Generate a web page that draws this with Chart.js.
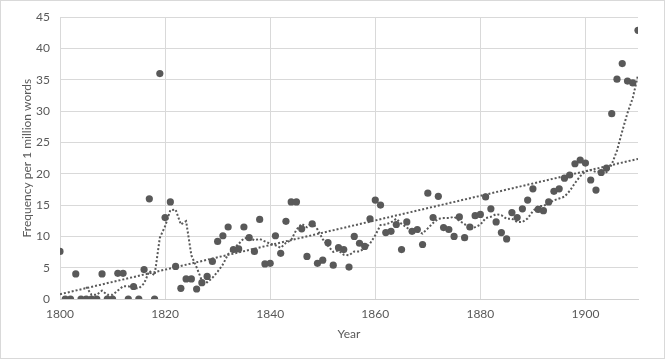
<!DOCTYPE html>
<html><head><meta charset="utf-8">
<script src="https://cdn.jsdelivr.net/npm/chart.js@4"></script>
<style>html,body{margin:0;padding:0;background:#fff}#wrap{width:665px;height:359px;position:relative}</style>
</head><body><div id="wrap"><canvas id="c" width="665" height="359"></canvas></div>
<script>
const years = [1800,1801,1802,1803,1804,1805,1806,1807,1808,1809,1810,1811,1812,1813,1814,1815,1816,1817,1818,1819,
1820,1821,1822,1823,1824,1825,1826,1827,1828,1829,1830,1831,1832,1833,1834,1835,1836,1837,1838,1839,
1840,1841,1842,1843,1844,1845,1846,1847,1848,1849,1850,1851,1852,1853,1854,1855,1856,1857,1858,1859,
1860,1861,1862,1863,1864,1865,1866,1867,1868,1869,1870,1871,1872,1873,1874,1875,1876,1877,1878,1879,
1880,1881,1882,1883,1884,1885,1886,1887,1888,1889,1890,1891,1892,1893,1894,1895,1896,1897,1898,1899,
1900,1901,1902,1903,1904,1905,1906,1907,1908,1909,1910];
const frequency = [7.6,0,0,4.0,0,0,0,0,4.0,0,0,4.1,4.1,0,2.0,0,4.7,16.0,0,36.0,
13.0,15.5,5.2,1.7,3.2,3.2,1.6,2.6,3.6,6.0,9.2,10.1,11.5,7.9,8.0,11.5,9.8,7.6,12.7,5.6,
5.7,10.1,7.3,12.4,15.5,15.5,11.2,6.8,12.0,5.7,6.2,9.0,5.4,8.2,7.9,5.1,10.0,8.9,8.4,12.8,
15.8,15.0,10.6,10.8,11.9,7.9,12.3,10.8,11.1,8.7,16.9,13.0,16.4,11.4,11.1,10.0,13.1,9.8,11.5,13.3,
13.5,16.3,14.4,12.3,10.6,9.6,13.8,13.0,14.4,15.8,17.6,14.3,14.1,15.5,17.2,17.6,19.3,19.8,21.6,22.2,
21.7,19.0,17.4,20.2,20.9,29.6,35.1,37.6,34.8,34.5,42.9];
const xTicks = [1800,1820,1840,1860,1880,1900];
const yTicks = [0,5,10,15,20,25,30,35,40,45];
const movingAveragePeriod = 6;

// scatter points
const points = years.map((y,i)=>({x:y, y:frequency[i]}));
// linear trendline (least squares of the data)
const n = years.length;
const mx = years.reduce((a,b)=>a+b,0)/n, my = frequency.reduce((a,b)=>a+b,0)/n;
let sxy=0, sxx=0;
for (let i=0;i<n;i++){ sxy+=(years[i]-mx)*(frequency[i]-my); sxx+=(years[i]-mx)*(years[i]-mx); }
const slope = sxy/sxx, intercept = my - slope*mx;
const linear = [years[0], years[n-1]].map(x=>({x, y:intercept+slope*x}));
// moving average trendline
const movAvg = [];
for (let i=movingAveragePeriod-1;i<n;i++){
  let s=0; for (let k=i-movingAveragePeriod+1;k<=i;k++) s+=frequency[k];
  movAvg.push({x:years[i], y:s/movingAveragePeriod});
}

const gray = '#595959';
const font = {family:'Lato, "Open Sans", sans-serif', size:12};
const frame = {
  id:'frame',
  beforeDraw(c){ const g=c.ctx; g.save(); g.fillStyle='#fff'; g.fillRect(0,0,c.width,c.height); g.restore(); },
  afterDraw(c){ const g=c.ctx; g.save(); g.strokeStyle='#d9d9d9'; g.lineWidth=1; g.strokeRect(0.5,0.5,c.width-1,c.height-1); g.restore(); }
};
new Chart(document.getElementById('c'), {
  type:'scatter',
  data:{datasets:[
    {label:'Frequency', data:points, order:2, pointRadius:3.6, pointHoverRadius:3.6, backgroundColor:gray, borderColor:gray, pointBorderWidth:0, showLine:false},
    {label:'Linear', data:linear, order:1, type:'line', showLine:true, pointRadius:0, borderColor:gray, borderWidth:2, borderDash:[2,2], fill:false},
    {label:'Moving average', data:movAvg, order:1, type:'line', showLine:true, pointRadius:0, borderColor:gray, borderWidth:2, borderDash:[2,2], fill:false, tension:0}
  ]},
  options:{
    responsive:false, animation:false, devicePixelRatio:1,
    layout:{padding:{top:15,right:27,left:0,bottom:0}},
    plugins:{legend:{display:false}, tooltip:{enabled:false}},
    scales:{
      x:{type:'linear', min:1800, max:1910,
        afterBuildTicks(s){ s.ticks = xTicks.map(v=>({value:v})); },
        afterFit(s){ s.height = 60; },
        ticks:{color:gray, font, padding:8, maxRotation:0, callback:v=>String(v)},
        grid:{color:'#d9d9d9', drawTicks:false},
        border:{color:'#d0d0d0'},
        title:{display:true, text:'Year', color:gray, font:{...font, size:12}, padding:{top:0,bottom:18}}
      },
      y:{min:0, max:45,
        afterBuildTicks(s){ s.ticks = yTicks.map(v=>({value:v})); },
        afterFit(s){ s.width = 60; },
        ticks:{color:gray, font, padding:10, callback:v=>String(v)},
        grid:{color:'#d9d9d9', drawTicks:false},
        border:{display:false},
        title:{display:true, text:'Frequency per 1 million words', color:gray, font:{...font, size:12}, padding:{top:20,bottom:0}}
      }
    }
  },
  plugins:[frame]
});
</script></body></html>
